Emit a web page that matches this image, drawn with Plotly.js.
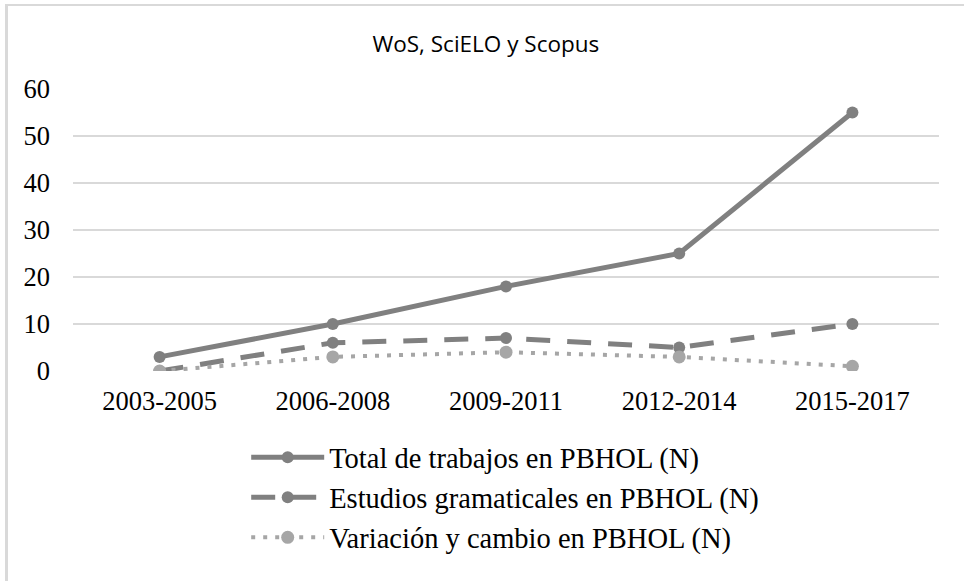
<!DOCTYPE html>
<html>
<head>
<meta charset="utf-8">
<script src="https://cdn.plot.ly/plotly-3.0.1.min.js"></script>
<style>
  html, body { margin: 0; padding: 0; background: #ffffff; }
  #wrap { position: relative; width: 964px; height: 581px; overflow: hidden; }
  #frame { position: absolute; left: 5px; top: 4px; width: 1000px; height: 700px;
           border-left: 3px solid #d9d9d9; border-top: 2px solid #d9d9d9; pointer-events: none; }
  #chart { position: absolute; left: 0; top: 0; width: 964px; height: 581px; }
</style>
</head>
<body>
<div id="wrap">
  <div id="chart"></div>
  <div id="frame"></div>
</div>
<script>
const categories = ["2003-2005", "2006-2008", "2009-2011", "2012-2014", "2015-2017"];
const totalTrabajos = [3, 10, 18, 25, 55];
const estudiosGramaticales = [0, 6, 7, 5, 10];
const variacionCambio = [0, 3, 4, 3, 1];
const seriesNames = ["Total de trabajos en PBHOL (N)", "Estudios gramaticales en PBHOL (N)", "Variación y cambio en PBHOL (N)"];
const yTicks = [0, 10, 20, 30, 40, 50, 60];

const serif = "Liberation Serif, Times New Roman, serif";

const traces = [
  { x: categories, y: totalTrabajos, name: seriesNames[0], type: "scatter", mode: "lines+markers",
    line: { color: "#808080", width: 5 }, marker: { color: "#808080", size: 12 } },
  { x: categories, y: estudiosGramaticales, name: seriesNames[1], type: "scatter", mode: "lines+markers",
    line: { color: "#808080", width: 5, dash: "24px,17px" }, marker: { color: "#808080", size: 12 } },
  { x: categories, y: variacionCambio, name: seriesNames[2], type: "scatter", mode: "lines+markers",
    line: { color: "#a6a6a6", width: 4, dash: "4px,8px" }, marker: { color: "#a6a6a6", size: 13 } }
];

const layout = {
  width: 964, height: 581,
  margin: { l: 73, r: 25, t: 89, b: 210, autoexpand: false },
  paper_bgcolor: "rgba(0,0,0,0)", plot_bgcolor: "#ffffff",
  title: { text: "WoS, SciELO y Scopus", font: { family: "Open Sans", size: 22.5, color: "#000000" },
           x: 0.504, xanchor: "center", xref: "container", y: 43, yref: "container", yanchor: "middle" },
  showlegend: true,
  legend: { orientation: "v", xref: "paper", x: 0.2, xanchor: "left", y: -0.217, yanchor: "top",
            font: { family: serif, size: 28.5, color: "#000000" },
            itemwidth: 73, tracegroupgap: 0, bgcolor: "rgba(0,0,0,0)" },
  xaxis: { type: "category", range: [-0.5, 4.5], showgrid: false, zeroline: false, showline: false,
           ticks: "", tickangle: 0, tickfont: { family: serif, size: 26.5, color: "#000000" },
           ticklabelstandoff: 11, fixedrange: true, automargin: false },
  yaxis: { range: [0, 60], tickvals: yTicks, showgrid: true, gridcolor: "#d9d9d9", gridwidth: 1.5,
           zeroline: false, showline: false, ticks: "",
           tickfont: { family: serif, size: 26.5, color: "#000000" },
           ticklabelstandoff: 22, fixedrange: true, automargin: false }
};

Plotly.newPlot("chart", traces, layout, { displayModeBar: false, staticPlot: true });
</script>
</body>
</html>
